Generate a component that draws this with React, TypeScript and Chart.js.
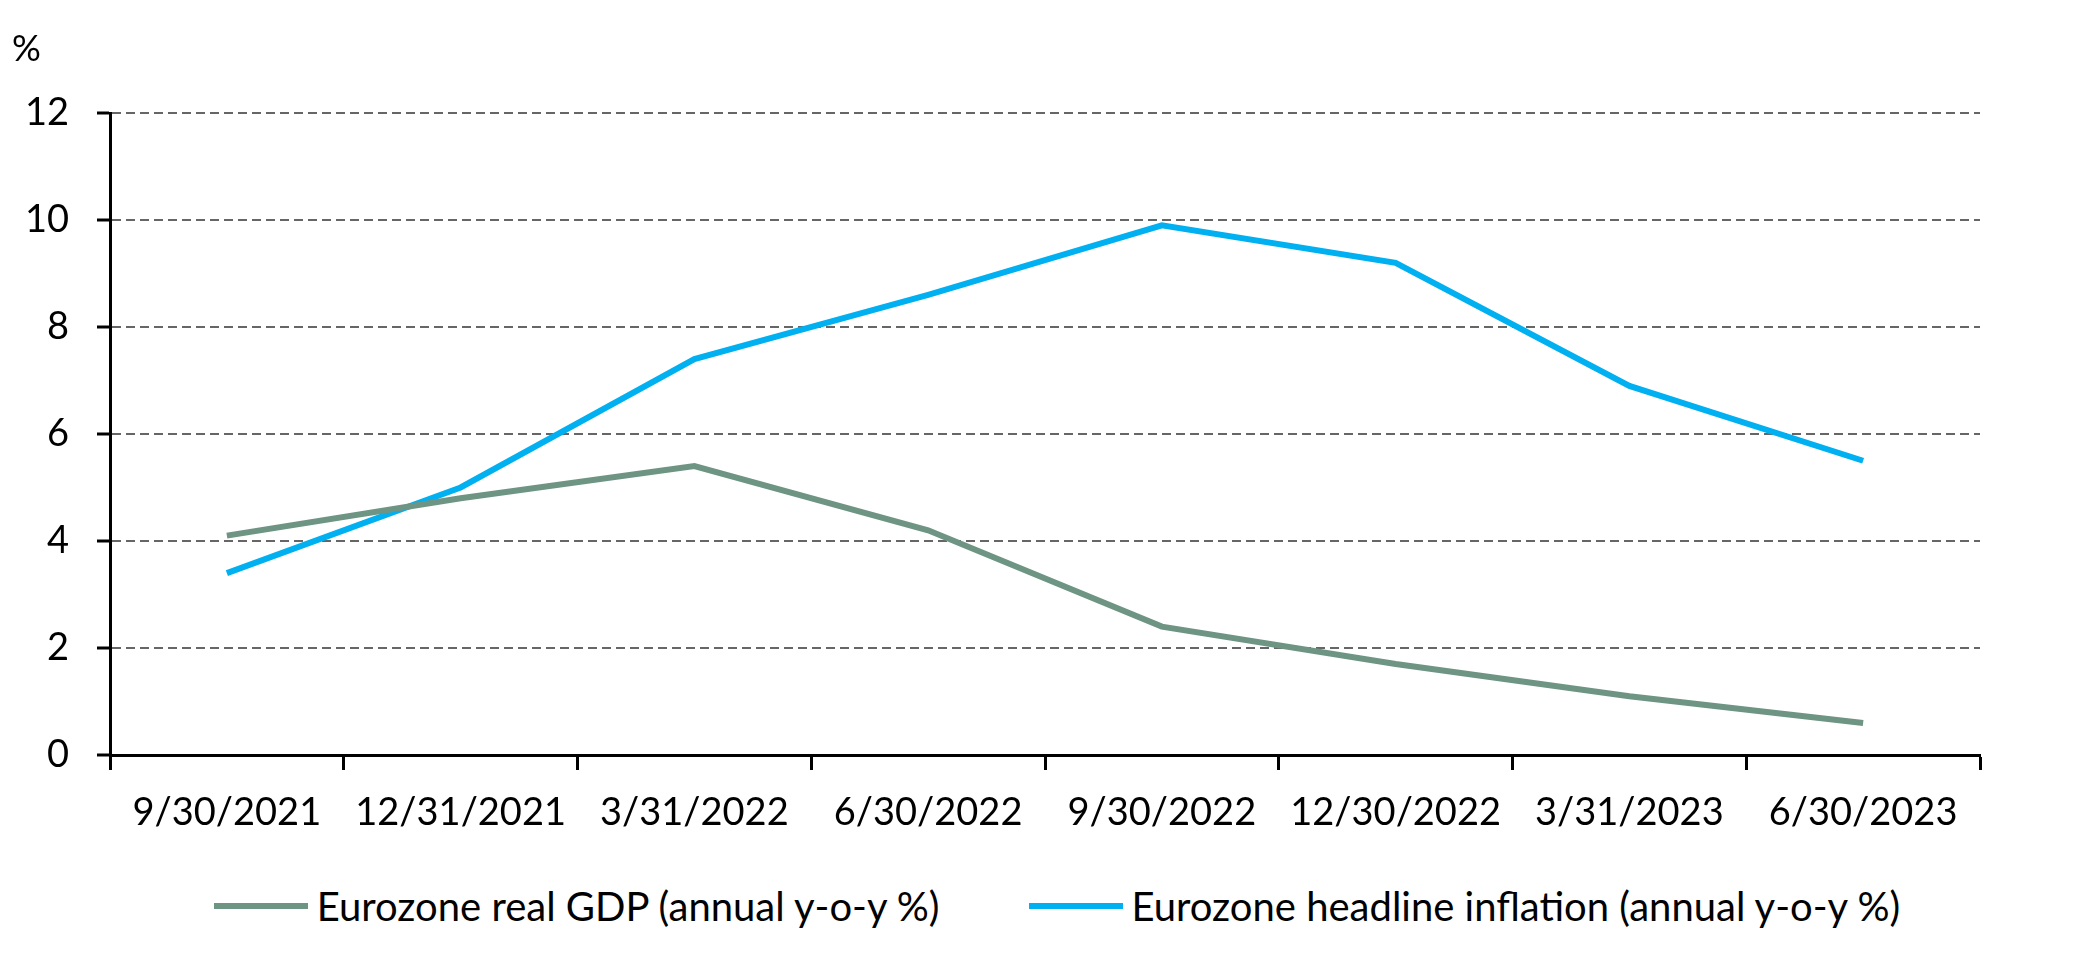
import React, { useEffect, useRef } from "react";
import { Chart, registerables } from "chart.js";

Chart.register(...registerables);

const quarters = [
  "9/30/2021",
  "12/31/2021",
  "3/31/2022",
  "6/30/2022",
  "9/30/2022",
  "12/30/2022",
  "3/31/2023",
  "6/30/2023",
];
const gdpValues = [4.1, 4.8, 5.4, 4.2, 2.4, 1.7, 1.1, 0.6];
const inflationValues = [3.4, 5.0, 7.4, 8.6, 9.9, 9.2, 6.9, 5.5];
const yTicks = [0, 2, 4, 6, 8, 10, 12];

const seriesLabels = [
  "Eurozone real GDP (annual y-o-y %)",
  "Eurozone headline inflation (annual y-o-y %)",
];
const seriesColors = ["#6E9483", "#00B0F0"];

const FONT = "Lato, 'Open Sans', sans-serif";

// draws the "%" unit label above the y axis
const unitLabel = {
  id: "unitLabel",
  afterDraw(chart: Chart) {
    const { ctx, chartArea } = chart;
    ctx.save();
    ctx.font = `36px ${FONT}`;
    ctx.fillStyle = "#000";
    ctx.textAlign = "left";
    ctx.textBaseline = "middle";
    ctx.fillText("%", chartArea.left - 98, chartArea.top - 64);
    ctx.restore();
  },
};

const App: React.FC = () => {
  const chartRef = useRef<HTMLCanvasElement | null>(null);
  const chartInstanceRef = useRef<Chart | null>(null);

  useEffect(() => {
    document.body.style.margin = "0";
    if (!chartRef.current) return;
    const ctx = chartRef.current.getContext("2d");
    if (!ctx) return;

    if (chartInstanceRef.current) {
      chartInstanceRef.current.destroy();
    }

    chartInstanceRef.current = new Chart(ctx, {
      type: "line",
      data: {
        labels: quarters,
        datasets: [
          {
            label: seriesLabels[0],
            data: gdpValues,
            borderColor: seriesColors[0],
            backgroundColor: seriesColors[0],
            borderWidth: 6,
            pointRadius: 0,
            tension: 0,
            fill: false,
          },
          {
            label: seriesLabels[1],
            data: inflationValues,
            borderColor: seriesColors[1],
            backgroundColor: seriesColors[1],
            borderWidth: 6,
            pointRadius: 0,
            tension: 0,
            fill: false,
          },
        ],
      },
      options: {
        animation: false,
        responsive: true,
        maintainAspectRatio: false,
        devicePixelRatio: 1,
        layout: {
          padding: { top: 113, right: 96, bottom: 0, left: 0 },
        },
        scales: {
          x: {
            offset: true,
            grid: {
              offset: true,
              drawOnChartArea: false,
              drawTicks: true,
              tickLength: 15,
              tickColor: "#000",
              tickWidth: 3,
            },
            border: { display: true, color: "#000", width: 3 },
            ticks: {
              color: "#000",
              font: { family: FONT, size: 38 },
              padding: 20,
              maxRotation: 0,
              autoSkip: false,
            },
            afterFit: (scale) => {
              scale.height = 126;
            },
          },
          y: {
            min: 0,
            max: 12,
            afterBuildTicks: (scale) => {
              scale.ticks = yTicks.map((v) => ({ value: v }));
            },
            grid: {
              color: "#666666",
              lineWidth: 2,
              drawTicks: true,
              tickLength: 13,
              tickColor: "#000",
              tickWidth: 3,
            },
            border: { display: true, color: "#000", width: 3, dash: [9, 5] },
            ticks: {
              color: "#000",
              font: { family: FONT, size: 38 },
              padding: 28,
            },
            afterFit: (scale) => {
              scale.width = 110;
            },
          },
        },
        plugins: {
          legend: { display: false },
          tooltip: { enabled: false },
        },
      },
      plugins: [unitLabel],
    });

    return () => {
      if (chartInstanceRef.current) {
        chartInstanceRef.current.destroy();
        chartInstanceRef.current = null;
      }
    };
  }, []);

  return (
    <div style={{ width: 2076, height: 980, background: "#fff" }}>
      <div style={{ width: 2076, height: 881, position: "relative" }}>
        <canvas ref={chartRef}></canvas>
      </div>
      <div
        style={{
          height: 50,
          display: "flex",
          alignItems: "center",
          justifyContent: "center",
          paddingLeft: 38,
          gap: 89,
          fontFamily: FONT,
          fontSize: 40,
          color: "#000",
        }}
      >
        {seriesLabels.map((label, i) => (
          <div key={label} style={{ display: "flex", alignItems: "center", gap: 9 }}>
            <span
              style={{
                display: "inline-block",
                width: 94,
                height: 6,
                background: seriesColors[i],
              }}
            />
            <span>{label}</span>
          </div>
        ))}
      </div>
    </div>
  );
};

export default App;
